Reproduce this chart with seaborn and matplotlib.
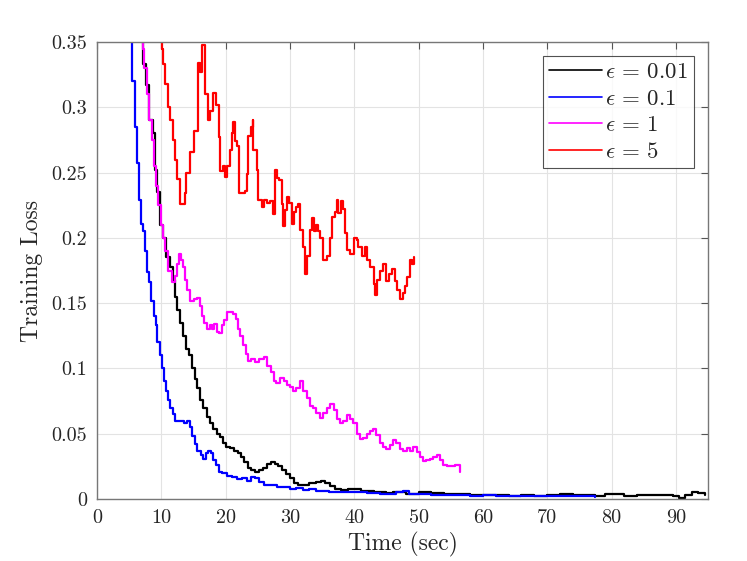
import numpy as np
import pandas as pd
import matplotlib
matplotlib.use("Agg")
import matplotlib.pyplot as plt
import seaborn as sns

# ---- data ----
t_001 = [7.0, 7.1, 7.6, 8.1, 8.7, 9.0, 9.4, 9.8, 10.3, 10.8, 11.4, 11.8, 12.1, 12.5, 12.9, 13.4, 13.8, 14.3,
         14.8, 15.2, 15.6, 16.0, 16.5, 17.1, 17.6, 18.1, 18.6, 19.1, 19.6, 20.1, 20.7, 21.3, 21.9, 22.4, 22.9,
         23.4, 24.0, 24.6, 25.2, 25.8, 26.4, 27.0, 27.6, 28.2, 28.8, 29.4, 30.0, 30.6, 31.2, 32.0, 33.0, 34.0,
         34.8, 35.5, 36.2, 37.0, 38.0, 39.0, 40.0, 41.0, 42.0, 43.0, 44.0, 45.0, 46.0, 47.0, 48.0, 49.0, 50.0,
         51.0, 52.0, 54.0, 56.0, 58.0, 60.0, 62.0, 64.0, 66.0, 68.0, 70.0, 72.0, 74.0, 76.0, 77.5, 79.0, 80.5,
         82.0, 84.0, 86.0, 88.0, 89.5, 90.5, 91.5, 92.5, 93.5, 94.5]
l_001 = [0.36, 0.333, 0.317, 0.29, 0.28, 0.252, 0.235, 0.21, 0.2, 0.185, 0.178, 0.168, 0.155, 0.145, 0.135,
         0.125, 0.115, 0.11, 0.1, 0.092, 0.085, 0.076, 0.07, 0.063, 0.058, 0.054, 0.05, 0.0475, 0.043, 0.04,
         0.039, 0.037, 0.035, 0.032, 0.028, 0.024, 0.022, 0.021, 0.022, 0.024, 0.027, 0.028, 0.027, 0.025,
         0.022, 0.019, 0.016, 0.012, 0.011, 0.011, 0.012, 0.013, 0.014, 0.012, 0.01, 0.008, 0.007, 0.0075,
         0.008, 0.006, 0.006, 0.005, 0.005, 0.0045, 0.005, 0.005, 0.004, 0.004, 0.005, 0.005, 0.0045, 0.004,
         0.004, 0.003, 0.003, 0.003, 0.002, 0.003, 0.0025, 0.003, 0.0035, 0.003, 0.003, 0.002, 0.0035, 0.004,
         0.0025, 0.003, 0.003, 0.003, 0.002, 0.001, 0.003, 0.005, 0.0045, 0.003]

t_01 = [5.3, 5.5, 5.9, 6.2, 6.5, 6.8, 7.2, 7.5, 7.7, 8.1, 8.4, 8.8, 9.1, 9.4, 9.8, 10.1, 10.4, 10.7, 11.0,
        11.4, 11.8, 12.2, 13.0, 13.5, 14.0, 14.4, 14.8, 15.2, 15.6, 16.1, 16.5, 16.9, 17.3, 17.7, 18.1, 18.5,
        18.9, 19.5, 20.2, 21.0, 21.8, 22.5, 23.3, 24.0, 24.6, 25.2, 26.0, 27.0, 28.0, 29.0, 30.0, 31.0, 32.0,
        33.0, 34.0, 35.0, 36.0, 38.0, 40.0, 42.0, 44.0, 45.0, 46.5, 47.5, 48.5, 50.0, 52.0, 55.0, 58.0, 60.0,
        62.0, 65.0, 68.0, 70.0, 73.0, 75.0, 77.5]
l_01 = [0.36, 0.32, 0.285, 0.257, 0.229, 0.211, 0.205, 0.19, 0.174, 0.166, 0.152, 0.14, 0.133, 0.12, 0.11,
        0.1, 0.09, 0.083, 0.076, 0.07, 0.065, 0.06, 0.06, 0.058, 0.06, 0.055, 0.048, 0.042, 0.037, 0.034,
        0.031, 0.035, 0.037, 0.035, 0.03, 0.026, 0.021, 0.02, 0.018, 0.017, 0.015, 0.016, 0.014, 0.017,
        0.016, 0.013, 0.011, 0.0105, 0.009, 0.0095, 0.008, 0.0085, 0.007, 0.0075, 0.006, 0.0065, 0.005,
        0.0055, 0.005, 0.0045, 0.004, 0.0035, 0.0055, 0.006, 0.004, 0.0035, 0.003, 0.003, 0.0025, 0.003,
        0.002, 0.0025, 0.002, 0.0025, 0.002, 0.002, 0.0015]

t_1 = [6.9, 7.1, 7.3, 7.7, 8.1, 8.5, 8.9, 9.2, 9.5, 10.0, 10.3, 10.6, 11.1, 11.6, 12.1, 12.5, 12.8, 13.1,
       13.4, 13.7, 14.0, 14.5, 15.0, 15.6, 16.0, 16.3, 16.7, 17.1, 17.5, 17.8, 18.2, 18.6, 19.0, 19.4, 19.8,
       20.2, 20.7, 21.2, 21.6, 21.9, 22.3, 22.7, 23.1, 23.4, 24.0, 24.6, 25.2, 25.9, 26.5, 27.0, 27.5, 27.9,
       28.5, 29.0, 29.6, 30.0, 30.5, 31.0, 31.6, 32.1, 32.6, 33.1, 33.6, 34.1, 34.7, 35.2, 35.7, 36.2, 36.8,
       37.3, 37.8, 38.3, 38.8, 39.3, 39.8, 40.4, 40.9, 41.4, 41.9, 42.4, 42.9, 43.4, 44.0, 44.5, 45.0, 45.5,
       46.0, 46.5, 47.1, 47.6, 48.2, 48.7, 49.2, 49.7, 50.2, 50.7, 51.2, 51.8, 52.3, 52.8, 53.3, 53.8, 54.4,
       55.0, 55.6, 56.1, 56.5]
l_1 = [0.36, 0.345, 0.33, 0.31, 0.29, 0.275, 0.255, 0.24, 0.225, 0.21, 0.2, 0.19, 0.175, 0.166, 0.171, 0.18,
       0.188, 0.183, 0.178, 0.168, 0.16, 0.152, 0.153, 0.154, 0.148, 0.14, 0.135, 0.13, 0.133, 0.13, 0.134,
       0.128, 0.127, 0.133, 0.137, 0.143, 0.143, 0.142, 0.138, 0.13, 0.125, 0.118, 0.111, 0.106, 0.107,
       0.105, 0.107, 0.109, 0.102, 0.097, 0.09, 0.089, 0.093, 0.09, 0.087, 0.086, 0.083, 0.085, 0.09, 0.083,
       0.077, 0.071, 0.07, 0.066, 0.062, 0.066, 0.07, 0.073, 0.068, 0.061, 0.058, 0.06, 0.064, 0.061, 0.058,
       0.05, 0.046, 0.047, 0.05, 0.052, 0.054, 0.049, 0.043, 0.04, 0.038, 0.041, 0.045, 0.043, 0.038, 0.037,
       0.039, 0.037, 0.04, 0.036, 0.032, 0.029, 0.03, 0.031, 0.032, 0.034, 0.03, 0.026, 0.025, 0.025, 0.026,
       0.026, 0.021]

t_5 = [9.9, 10.05, 10.3, 10.6, 11.1, 11.4, 11.8, 12.1, 12.5, 12.9, 13.7, 13.9, 14.5, 15.0, 15.6, 15.65, 16.0,
       16.3, 16.8, 17.3, 17.6, 18.0, 18.5, 18.9, 19.1, 19.6, 19.9, 20.2, 20.6, 21.0, 21.2, 21.5, 21.7, 22.1,
       23.0, 23.3, 23.5, 23.9, 24.2, 24.3, 24.8, 25.1, 25.6, 25.9, 26.4, 26.9, 27.3, 27.7, 28.0, 28.3, 28.7,
       28.9, 29.2, 29.5, 29.9, 30.3, 30.6, 31.0, 31.3, 31.6, 32.1, 32.3, 32.6, 33.1, 33.4, 33.7, 34.1, 34.4,
       34.7, 35.2, 35.7, 36.2, 36.5, 37.0, 37.3, 37.5, 37.9, 38.3, 38.6, 38.8, 39.3, 39.9, 40.4, 40.6, 41.2,
       41.7, 41.9, 42.5, 43.0, 43.2, 43.5, 44.0, 44.5, 45.0, 45.4, 45.8, 46.3, 46.7, 47.1, 47.6, 47.9, 48.2,
       48.7, 49.0, 49.3]
l_5 = [0.36, 0.345, 0.333, 0.318, 0.3, 0.29, 0.275, 0.26, 0.245, 0.226, 0.234, 0.25, 0.266, 0.282, 0.282,
       0.334, 0.327, 0.348, 0.31, 0.29, 0.297, 0.311, 0.302, 0.277, 0.251, 0.255, 0.247, 0.255, 0.267, 0.28,
       0.289, 0.274, 0.27, 0.234, 0.236, 0.249, 0.278, 0.285, 0.29, 0.267, 0.252, 0.229, 0.224, 0.229, 0.227,
       0.228, 0.218, 0.252, 0.246, 0.244, 0.226, 0.209, 0.221, 0.231, 0.227, 0.211, 0.22, 0.224, 0.226,
       0.206, 0.193, 0.172, 0.186, 0.206, 0.215, 0.205, 0.21, 0.205, 0.2, 0.183, 0.186, 0.2, 0.216, 0.22,
       0.229, 0.219, 0.228, 0.222, 0.204, 0.191, 0.188, 0.2, 0.198, 0.193, 0.186, 0.193, 0.183, 0.178, 0.165,
       0.156, 0.168, 0.175, 0.18, 0.167, 0.172, 0.176, 0.167, 0.16, 0.153, 0.158, 0.163, 0.17, 0.183, 0.18,
       0.185]

series_labels = [r"$\epsilon\,=\,0.01$", r"$\epsilon\,=\,0.1$", r"$\epsilon\,=\,1$", r"$\epsilon\,=\,5$"]
series_colors = ["#000000", "#0000ff", "#ff00ff", "#ff0000"]
x_ticks = [0, 10, 20, 30, 40, 50, 60, 70, 80, 90]
y_ticks = [0, 0.05, 0.1, 0.15, 0.2, 0.25, 0.3, 0.35]
y_tick_labels = ["0", "0.05", "0.1", "0.15", "0.2", "0.25", "0.3", "0.35"]

frames = []
for t, l, lab in zip([t_001, t_01, t_1, t_5], [l_001, l_01, l_1, l_5], series_labels):
    frames.append(pd.DataFrame({"Time": t, "Loss": l, "series": lab}))
df = pd.concat(frames, ignore_index=True)

sns.set_theme(style="white")
plt.rcParams["font.family"] = ["cmr10", "DejaVu Serif"]
plt.rcParams["mathtext.fontset"] = "cm"
plt.rcParams["axes.formatter.use_mathtext"] = True

fig = plt.figure(figsize=(7.47, 5.61), dpi=100)
ax = fig.add_axes([0.1299, 0.1105, 0.8179, 0.8146])

for lab, col in zip(series_labels, series_colors):
    sub = df[df["series"] == lab]
    sns.lineplot(data=sub, x="Time", y="Loss", ax=ax, color=col, label=lab,
                 drawstyle="steps-post", linewidth=1.6, estimator=None, sort=False)

ax.set_xlim(0, 95)
ax.set_ylim(0, 0.35)
ax.set_xticks(x_ticks)
ax.set_xticklabels([str(v) for v in x_ticks])
ax.set_yticks(y_ticks)
ax.set_yticklabels(y_tick_labels)
ax.grid(True, color="#e3e3e3", linewidth=0.8)
ax.set_axisbelow(True)
for s in ax.spines.values():
    s.set_color("#777777")
    s.set_linewidth(1.0)
ax.tick_params(direction="in", length=5, width=0.8, color="#555555", top=True, right=True,
               labelsize=14.5, labelcolor="#262626", pad=7)
ax.set_xlabel("Time (sec)", fontsize=17, color="#262626", labelpad=4)
ax.set_ylabel("Training Loss", fontsize=17, color="#262626", labelpad=6)

leg = ax.legend(loc="upper right", fontsize=16.5, frameon=True, fancybox=False, handlelength=2.3,
                borderaxespad=0.6, labelspacing=0.28, handletextpad=0.15, borderpad=0.28)
leg.get_frame().set_edgecolor("#262626")
leg.get_frame().set_linewidth(0.8)
for h in leg.get_lines():
    h.set_linewidth(1.2)

fig.savefig("out.png", dpi=100)
